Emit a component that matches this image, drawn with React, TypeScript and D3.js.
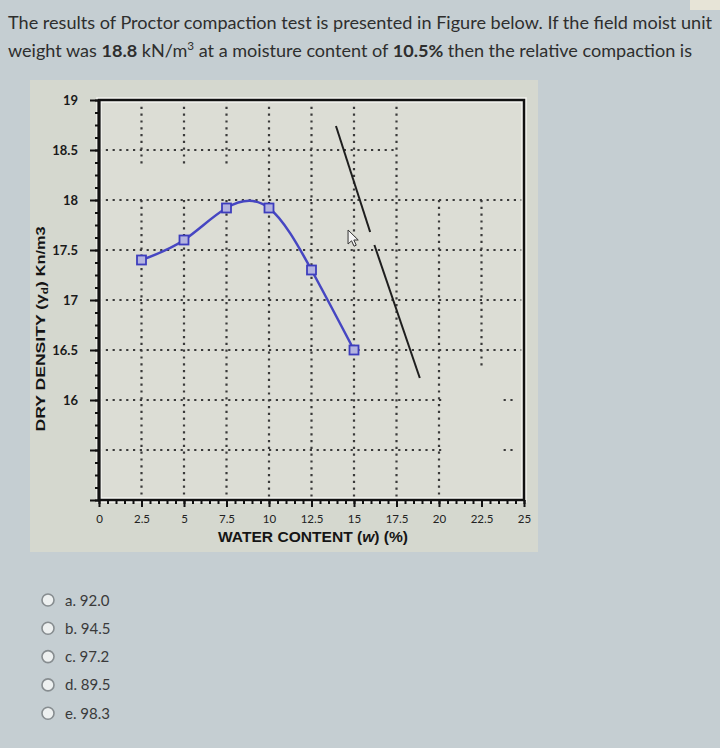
import React, { useRef, useEffect } from 'react';
import * as d3 from 'd3';

// Proctor test points (water content %, dry density kN/m3)
const waterContent = [2.5, 5, 7.5, 10, 12.5, 15];
const dryDensity = [17.4, 17.6, 17.92, 17.92, 17.3, 16.5];

// zero air voids line, drawn in two pieces
const zavWater = [13.94, 15.95, 16.2, 18.87];
const zavDensity = [18.74, 17.68, 17.55, 16.22];

const xTicks = [0, 2.5, 5, 7.5, 10, 12.5, 15, 17.5, 20, 22.5, 25];
const yTicks = [15, 15.5, 16, 16.5, 17, 17.5, 18, 18.5, 19];
const yLabelled = [16, 16.5, 17, 17.5, 18, 18.5, 19];

// dotted grid pieces as they show on the screen: [value, from, to]
const vGrid: [number, number, number][] = [
  [2.5, 18.35, 19], [2.5, 15, 18],
  [5, 18.35, 19], [5, 15, 18],
  [7.5, 18.35, 19], [7.5, 15, 18],
  [10, 15, 19], [12.5, 15, 19], [15, 15, 19], [17.5, 15, 19],
  [20, 15, 18], [22.5, 16.3, 18]
];
const hGrid: [number, number, number][] = [
  [18.5, 0, 17.5], [18, 0, 25], [17.5, 0, 25], [17, 0, 25], [16.5, 0, 25],
  [16, 0, 20.3], [16, 23.8, 24.6], [15.5, 0, 20.3], [15.5, 23.8, 24.6]
];

const questionLine1 = 'The results of Proctor compaction test is presented in Figure below. If the field moist unit';
const options = ['a. 92.0', 'b. 94.5', 'c. 97.2', 'd. 89.5', 'e. 98.3'];

const W = 720;
const H = 748;

const App: React.FC = () => {
  const svgRef = useRef<SVGSVGElement>(null);

  useEffect(() => {
    if (!svgRef.current) return;
    const svg = d3.select(svgRef.current);
    svg.selectAll('*').remove();

    const font = 'Lato, "Open Sans", sans-serif';

    // page + panel backgrounds
    svg.append('rect').attr('width', W).attr('height', H).attr('fill', '#c5ced2');
    svg.append('rect').attr('x', 690).attr('y', 0).attr('width', 30).attr('height', 10).attr('fill', '#e7e4d7');
    svg.append('rect').attr('x', 30).attr('y', 80).attr('width', 508).attr('height', 472).attr('fill', '#d5d8cf');

    // question text
    svg.append('text')
      .attr('x', 8).attr('y', 29)
      .attr('textLength', 704).attr('lengthAdjust', 'spacingAndGlyphs')
      .style('font-family', font).style('font-size', '17px').style('fill', '#2e2e2e')
      .text(questionLine1);

    const l2 = svg.append('text')
      .attr('x', 8).attr('y', 57)
      .attr('textLength', 684).attr('lengthAdjust', 'spacingAndGlyphs')
      .style('font-family', font).style('font-size', '17px').style('fill', '#2e2e2e');
    l2.append('tspan').text('weight was ');
    l2.append('tspan').style('font-weight', 'bold').text('18.8');
    l2.append('tspan').text(' kN/m');
    l2.append('tspan').attr('dy', -7).style('font-size', '11px').text('3');
    l2.append('tspan').attr('dy', 7).text(' at a moisture content of ');
    l2.append('tspan').style('font-weight', 'bold').text('10.5%');
    l2.append('tspan').text(' then the relative compaction is');

    const x = d3.scaleLinear().domain([0, 25]).range([99, 524]);
    const y = d3.scaleLinear().domain([15, 19]).range([500, 100]);

    // plot area
    svg.append('rect')
      .attr('x', x(0)).attr('y', y(19))
      .attr('width', x(25) - x(0)).attr('height', y(15) - y(19))
      .attr('fill', '#dcddd5');

    // grid
    const grid = svg.append('g')
      .attr('stroke', '#3a3a3a').attr('stroke-width', 2.2).attr('stroke-dasharray', '2.2,4.6');
    grid.selectAll('.vg').data(vGrid).enter().append('line')
      .attr('x1', d => x(d[0])).attr('x2', d => x(d[0]))
      .attr('y1', d => y(d[2])).attr('y2', d => y(d[1]));
    grid.selectAll('.hg').data(hGrid).enter().append('line')
      .attr('y1', d => y(d[0])).attr('y2', d => y(d[0]))
      .attr('x1', d => x(d[1])).attr('x2', d => x(d[2]));

    // frame with light halo
    const frame = () => svg.append('rect')
      .attr('x', x(0)).attr('y', y(19))
      .attr('width', x(25) - x(0)).attr('height', y(15) - y(19))
      .attr('fill', 'none');
    frame().attr('stroke', '#f4f4f0').attr('stroke-width', 5.5);
    frame().attr('stroke', '#111').attr('stroke-width', 2.5);

    // y axis
    const yMinor = svg.append('g').attr('transform', `translate(${x(0)},0)`)
      .call(d3.axisLeft(y).tickValues(d3.range(15, 19.001, 0.125)).tickSize(4).tickFormat(() => ''));
    const yMajor = svg.append('g').attr('transform', `translate(${x(0)},0)`)
      .call(d3.axisLeft(y).tickValues(yTicks).tickSize(9).tickPadding(12)
        .tickFormat(d => (yLabelled.includes(+d) ? String(d) : '')));
    [yMinor, yMajor].forEach(g => {
      g.select('.domain').remove();
      g.selectAll('line').attr('stroke', '#111').attr('stroke-width', 2);
    });
    yMajor.selectAll('text')
      .style('font-family', font).style('font-weight', 'bold').style('font-size', '13px').style('fill', '#1a1a1a');
    svg.append('line').attr('x1', x(0)).attr('x2', x(0)).attr('y1', y(19)).attr('y2', y(15))
      .attr('stroke', '#111').attr('stroke-width', 3);

    // x axis
    const xMinor = svg.append('g').attr('transform', `translate(0,${y(15)})`)
      .call(d3.axisBottom(x).tickValues(d3.range(0, 25.001, 0.5)).tickSize(4).tickFormat(() => ''));
    const xMajor = svg.append('g').attr('transform', `translate(0,${y(15)})`)
      .call(d3.axisBottom(x).tickValues(xTicks).tickSize(7).tickPadding(8).tickFormat(d => String(d)));
    [xMinor, xMajor].forEach(g => {
      g.select('.domain').remove();
      g.selectAll('line').attr('stroke', '#111').attr('stroke-width', 2);
    });
    xMajor.selectAll('text')
      .style('font-family', font).style('font-size', '11.5px').style('fill', '#222');

    // axis titles
    const xt = svg.append('text')
      .attr('x', 313).attr('y', 542).attr('text-anchor', 'middle')
      .attr('textLength', 190).attr('lengthAdjust', 'spacingAndGlyphs')
      .style('font-family', '"Liberation Sans", Arial, sans-serif').style('font-weight', 'bold')
      .style('font-size', '15px').style('fill', '#151515');
    xt.append('tspan').text('WATER CONTENT (');
    xt.append('tspan').style('font-style', 'italic').text('w');
    xt.append('tspan').text(') (%)');

    const yt = svg.append('text')
      .attr('transform', 'translate(45,329) rotate(-90)').attr('text-anchor', 'middle')
      .attr('textLength', 205).attr('lengthAdjust', 'spacingAndGlyphs')
      .style('font-family', '"Liberation Sans", Arial, sans-serif').style('font-weight', 'bold')
      .style('font-size', '13.5px').style('fill', '#151515');
    yt.append('tspan').text('DRY DENSITY (γ');
    yt.append('tspan').attr('dy', 3).style('font-size', '9px').text('d');
    yt.append('tspan').attr('dy', -3).text(') ');
    yt.append('tspan').style('font-size', '12.5px').text('Kn/m3');

    // compaction curve
    const pts = waterContent.map((w, i) => [w, dryDensity[i]] as [number, number]);
    const line = d3.line<[number, number]>()
      .x(d => x(d[0])).y(d => y(d[1]))
      .curve(d3.curveNatural);
    svg.append('path').datum(pts)
      .attr('fill', 'none').attr('stroke', '#4646c2').attr('stroke-width', 2.5)
      .attr('d', line);
    svg.selectAll('.pt').data(pts).enter().append('rect')
      .attr('x', d => x(d[0]) - 4.5).attr('y', d => y(d[1]) - 4.5)
      .attr('width', 9).attr('height', 9)
      .attr('fill', '#b3b3df').attr('stroke', '#3d3dbd').attr('stroke-width', 1.8);

    // zero air voids line
    const zav = zavWater.map((w, i) => [w, zavDensity[i]] as [number, number]);
    const straight = d3.line<[number, number]>().x(d => x(d[0])).y(d => y(d[1]));
    [zav.slice(0, 2), zav.slice(2, 4)].forEach(seg => {
      svg.append('path').datum(seg)
        .attr('fill', 'none').attr('stroke', '#1e1e1e').attr('stroke-width', 2)
        .attr('d', straight);
    });

    // mouse pointer left on the screen
    svg.append('path')
      .attr('transform', `translate(${x(14.65)},${y(17.7)})`)
      .attr('d', 'M0,0 L0,14 L3.5,10.8 L6,16.2 L8.2,15.2 L5.8,10 L10.2,10 Z')
      .attr('fill', '#f4f4f4').attr('stroke', '#333').attr('stroke-width', 1);

    // answer options
    options.forEach((o, i) => {
      const cy = 600 + i * 28.3;
      svg.append('circle').attr('cx', 48).attr('cy', cy).attr('r', 6)
        .attr('fill', '#edf0f0').attr('stroke', '#878d90').attr('stroke-width', 1.6);
      svg.append('text').attr('x', 65).attr('y', cy + 5.5)
        .style('font-family', font).style('font-size', '15px').style('fill', '#3a3a3a')
        .text(o);
    });
  }, []);

  return (
    <svg
      ref={svgRef}
      width={W}
      height={H}
      viewBox={`0 0 ${W} ${H}`}
      style={{ position: 'absolute', left: 0, top: 0 }}
    />
  );
};

export default App;
